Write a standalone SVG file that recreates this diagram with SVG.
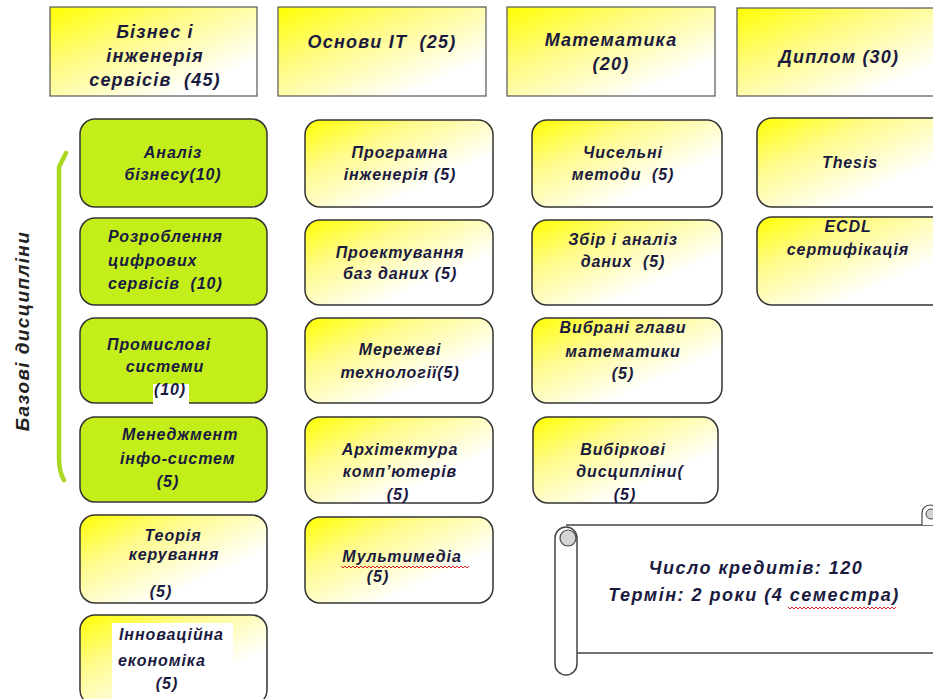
<svg xmlns="http://www.w3.org/2000/svg" width="933" height="699" viewBox="0 0 933 699">
<defs>
<linearGradient id="gy" x1="0" y1="0" x2="1" y2="1">
<stop offset="0" stop-color="#ffff00"/>
<stop offset="0.3" stop-color="#fffb8a"/>
<stop offset="0.7" stop-color="#ffffff"/>
</linearGradient>
<linearGradient id="gh" x1="0" y1="0" x2="1" y2="1">
<stop offset="0" stop-color="#ffff00"/>
<stop offset="0.35" stop-color="#fffb80"/>
<stop offset="0.8" stop-color="#ffffff"/>
</linearGradient>
</defs>
<style>
.t{font-family:"Liberation Sans",Arial,sans-serif;font-weight:bold;font-style:italic;font-size:16px;letter-spacing:0.9px;fill:#1a1a40;white-space:pre;}
.c{text-anchor:middle;}
.h{font-size:18px;letter-spacing:1.2px;}
.s{font-size:18px;letter-spacing:1.5px;}
.hb{fill:url(#gh);stroke:#555;stroke-width:1.2;}
.yb{fill:url(#gy);stroke:#333;stroke-width:1.5;}
.gb{fill:#c3ee1a;stroke:#333;stroke-width:1.5;}
.wave{fill:none;stroke:#e02020;stroke-width:1;}
</style>
<rect width="933" height="699" fill="#ffffff"/>

<g id="header-business">
<rect class="hb" x="50" y="7" width="207" height="89"/>
<text class="t h c" x="155" y="38">Бізнес і</text>
<text class="t h c" x="155" y="62">інженерія</text>
<text class="t h c" x="155" y="86" xml:space="preserve">сервісів  (45)</text>
</g>
<g id="header-it">
<rect class="hb" x="278" y="7" width="208" height="89"/>
<text class="t h c" x="382" y="48" xml:space="preserve">Основи IT  (25)</text>
</g>
<g id="header-math">
<rect class="hb" x="507" y="7" width="208" height="89"/>
<text class="t h c" x="611" y="46">Математика</text>
<text class="t h c" x="611" y="70">(20)</text>
</g>
<g id="header-diploma">
<rect class="hb" x="737" y="8" width="210" height="88"/>
<text class="t h c" x="839" y="63">Диплом (30)</text>
</g>

<g id="bracket">
<path d="M66,153 L59,167 L59,458 Q59,472 64,480" fill="none" stroke="#a8d820" stroke-width="4.5" stroke-linecap="round"/>
</g>
<text class="t" x="0" y="0" transform="translate(29,331) rotate(-90)" text-anchor="middle" style="font-size:19px;letter-spacing:1.4px;fill:#222">Базові дисципліни</text>

<g id="analiz">
<rect class="gb" x="80" y="119" width="187" height="88" rx="15"/>
<text class="t c" x="173" y="158">Аналіз</text>
<text class="t c" x="173" y="180">бізнесу(10)</text>
</g>
<g id="rozroblennia">
<rect class="gb" x="80" y="218" width="187" height="87" rx="15"/>
<text class="t" x="108" y="242">Розроблення</text>
<text class="t" x="108" y="266">цифрових</text>
<text class="t" x="108" y="289" xml:space="preserve">сервісів  (10)</text>
</g>
<g id="promyslovi">
<rect class="gb" x="80" y="318" width="187" height="85" rx="15"/>
<rect x="153" y="384" width="36" height="27" fill="#ffffff"/>
<text class="t" x="107" y="350">Промислові</text>
<text class="t c" x="165" y="372">системи</text>
<text class="t c" x="170" y="395">(10)</text>
</g>
<g id="menedzhment">
<rect class="gb" x="80" y="417" width="187" height="85" rx="15"/>
<text class="t" x="122" y="440">Менеджмент</text>
<text class="t" x="120" y="464">інфо-систем</text>
<text class="t c" x="168" y="487">(5)</text>
</g>
<g id="teoriia">
<rect class="yb" x="80" y="515" width="187" height="88" rx="15"/>
<text class="t c" x="173" y="541">Теорія</text>
<text class="t c" x="174" y="560">керування</text>
<text class="t c" x="161" y="597">(5)</text>
</g>
<g id="innovatsiina">
<rect class="yb" x="80" y="615" width="187" height="90" rx="15"/>
<rect x="112" y="623" width="121" height="76" fill="#ffffff"/>
<text class="t" x="119" y="640">Інноваційна</text>
<text class="t" x="118" y="666">економіка</text>
<text class="t c" x="167" y="689">(5)</text>
</g>

<g id="prohramna">
<rect class="yb" x="305" y="120" width="188" height="87" rx="15"/>
<text class="t c" x="400" y="158">Програмна</text>
<text class="t c" x="400" y="180">інженерія (5)</text>
</g>
<g id="proektuvannia">
<rect class="yb" x="305" y="220" width="188" height="85" rx="15"/>
<text class="t c" x="400" y="258">Проектування</text>
<text class="t c" x="400" y="279">баз даних (5)</text>
</g>
<g id="merezhevi">
<rect class="yb" x="305" y="318" width="188" height="85" rx="15"/>
<text class="t c" x="400" y="355">Мережеві</text>
<text class="t c" x="400" y="378">технології(5)</text>
</g>
<g id="arkhitektura">
<rect class="yb" x="305" y="417" width="188" height="86" rx="15"/>
<text class="t c" x="400" y="455">Архітектура</text>
<text class="t c" x="400" y="477">комп’ютерів</text>
<text class="t c" x="398" y="500">(5)</text>
</g>
<g id="multymedia">
<rect class="yb" x="305" y="517" width="188" height="86" rx="15"/>
<text class="t c" x="402" y="562">Мультимедіа</text>
<path class="wave" d="M341,566 l2,2 l2,-2 l2,2 l2,-2 l2,2 l2,-2 l2,2 l2,-2 l2,2 l2,-2 l2,2 l2,-2 l2,2 l2,-2 l2,2 l2,-2 l2,2 l2,-2 l2,2 l2,-2 l2,2 l2,-2 l2,2 l2,-2 l2,2 l2,-2 l2,2 l2,-2 l2,2 l2,-2 l2,2 l2,-2 l2,2 l2,-2 l2,2 l2,-2 l2,2 l2,-2 l2,2 l2,-2 l2,2 l2,-2 l2,2 l2,-2 l2,2 l2,-2 l2,2 l2,-2 l2,2 l2,-2 l2,2 l2,-2 l2,2 l2,-2 l2,2 l2,-2 l2,2 l2,-2 l2,2 l2,-2 l2,2 l2,-2 l2,2 l2,-2"/>
<text class="t c" x="378" y="582">(5)</text>
</g>

<g id="chyselni">
<rect class="yb" x="532" y="120" width="190" height="87" rx="15"/>
<text class="t c" x="623" y="158">Чисельні</text>
<text class="t c" x="623" y="180" xml:space="preserve">методи  (5)</text>
</g>
<g id="zbir">
<rect class="yb" x="532" y="220" width="190" height="85" rx="15"/>
<text class="t c" x="623" y="245">Збір і аналіз</text>
<text class="t c" x="623" y="267" xml:space="preserve">даних  (5)</text>
</g>
<g id="vybrani">
<rect class="yb" x="532" y="318" width="190" height="85" rx="15"/>
<text class="t c" x="623" y="333">Вибрані глави</text>
<text class="t c" x="623" y="357">математики</text>
<text class="t c" x="623" y="379">(5)</text>
</g>
<g id="vybirkovi">
<rect class="yb" x="533" y="417" width="185" height="86" rx="15"/>
<text class="t c" x="623" y="455">Вибіркові</text>
<text class="t c" x="630" y="477">дисципліни(</text>
<text class="t c" x="625" y="500">(5)</text>
</g>

<g id="thesis">
<rect class="yb" x="757" y="118" width="200" height="89" rx="15"/>
<text class="t c" x="850" y="168">Thesis</text>
</g>
<g id="ecdl">
<rect class="yb" x="757" y="217" width="200" height="88" rx="15"/>
<text class="t c" x="848" y="232">ECDL</text>
<text class="t c" x="848" y="255">сертифікація</text>
</g>

<g id="scroll">
<rect x="566" y="525" width="380" height="128" fill="#ffffff"/>
<path d="M566,525 L940,525 M577,653 L940,653" fill="none" stroke="#444" stroke-width="1.5"/>
<rect x="555" y="527" width="22" height="148" rx="11" fill="#ffffff" stroke="#444" stroke-width="1.5"/>
<circle cx="568" cy="538" r="8" fill="#d4d4d4" stroke="#444" stroke-width="1.2"/>
<path d="M922,525 L922,513 A8,8 0 0 1 938,513 L938,525" fill="#ffffff" stroke="#444" stroke-width="1.2"/>
<circle cx="931" cy="514" r="5" fill="#d4d4d4" stroke="#444" stroke-width="1"/>
<text class="t s c" x="756" y="574">Число кредитів: 120</text>
<text class="t s c" x="754" y="601">Термін: 2 роки (4 семестра)</text>
<path class="wave" d="M788,607 l2,2 l2,-2 l2,2 l2,-2 l2,2 l2,-2 l2,2 l2,-2 l2,2 l2,-2 l2,2 l2,-2 l2,2 l2,-2 l2,2 l2,-2 l2,2 l2,-2 l2,2 l2,-2 l2,2 l2,-2 l2,2 l2,-2 l2,2 l2,-2 l2,2 l2,-2 l2,2 l2,-2 l2,2 l2,-2 l2,2 l2,-2 l2,2 l2,-2 l2,2 l2,-2 l2,2 l2,-2 l2,2 l2,-2 l2,2 l2,-2 l2,2 l2,-2 l2,2 l2,-2 l2,2 l2,-2 l2,2 l2,-2 l2,2 l2,-2"/>
</g>
</svg>
